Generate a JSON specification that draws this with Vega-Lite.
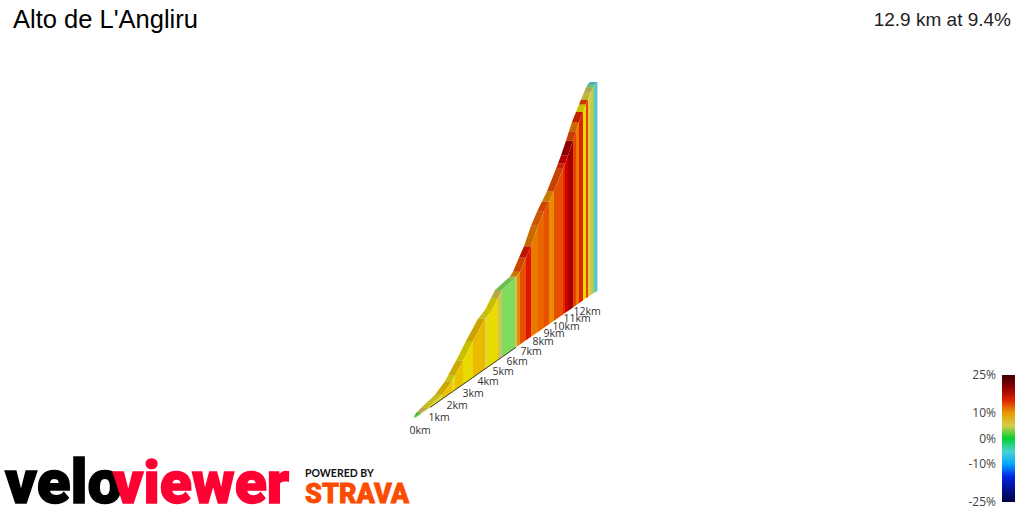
{"$schema":"https://vega.github.io/schema/vega-lite/v6.json","width":1024,"height":512,"padding":0,"autosize":{"type":"none"},"background":"white","config":{"view":{"stroke":null}},
"datasets":{"slats":[
{"seg":1,"grade":0.5,"x":415,"xBack":414,"top":417,"base":418},{"seg":1,"grade":0.5,"x":421,"xBack":416,"top":413,"base":413.8},
{"seg":2,"grade":4,"x":421,"xBack":416,"top":413,"base":413.8},{"seg":2,"grade":4,"x":428,"xBack":421,"top":408,"base":408.9},
{"seg":3,"grade":6.5,"x":428,"xBack":421,"top":408,"base":408.9},{"seg":3,"grade":6.5,"x":442,"xBack":435,"top":394.7,"base":399.1},
{"seg":4,"grade":8.5,"x":442,"xBack":435,"top":394.7,"base":399.1},{"seg":4,"grade":8.5,"x":452,"xBack":445,"top":381.3,"base":392.1},
{"seg":5,"grade":7,"x":452,"xBack":445,"top":381.3,"base":392.1},{"seg":5,"grade":7,"x":455,"xBack":448,"top":375.6,"base":390},
{"seg":6,"grade":8.5,"x":455,"xBack":448,"top":375.6,"base":390},{"seg":6,"grade":8.5,"x":463,"xBack":456,"top":360.7,"base":384.4},
{"seg":7,"grade":7.5,"x":463,"xBack":456,"top":360.7,"base":384.4},{"seg":7,"grade":7.5,"x":473,"xBack":466,"top":341.1,"base":377.4},
{"seg":8,"grade":8.8,"x":473,"xBack":466,"top":341.1,"base":377.4},{"seg":8,"grade":8.8,"x":485,"xBack":478,"top":318.75,"base":369},
{"seg":9,"grade":6.5,"x":485,"xBack":478,"top":318.75,"base":369},{"seg":9,"grade":6.5,"x":488,"xBack":481,"top":315,"base":366.9},
{"seg":10,"grade":7.5,"x":488,"xBack":481,"top":315,"base":366.9},{"seg":10,"grade":7.5,"x":492,"xBack":485,"top":310,"base":364.1},
{"seg":11,"grade":7.5,"x":492,"xBack":485,"top":310,"base":364.1},{"seg":11,"grade":7.5,"x":498,"xBack":491,"top":298,"base":359.9},
{"seg":12,"grade":4,"x":498,"xBack":491,"top":298,"base":359.9},{"seg":12,"grade":4,"x":502,"xBack":495,"top":290,"base":357.1},
{"seg":13,"grade":1.5,"x":502,"xBack":495,"top":290,"base":357.1},{"seg":13,"grade":1.5,"x":515,"xBack":508,"top":278.2,"base":348},
{"seg":14,"grade":4,"x":515,"xBack":508,"top":278.2,"base":348},{"seg":14,"grade":4,"x":517,"xBack":510,"top":276.6,"base":346.6},
{"seg":15,"grade":10.5,"x":517,"xBack":510,"top":276.6,"base":346.6},{"seg":15,"grade":10.5,"x":520,"xBack":513,"top":271.7,"base":344.5},
{"seg":16,"grade":12,"x":520,"xBack":513,"top":271.7,"base":344.5},{"seg":16,"grade":12,"x":526,"xBack":519,"top":257.6,"base":340.3},
{"seg":17,"grade":15.5,"x":526,"xBack":519,"top":257.6,"base":340.3},{"seg":17,"grade":15.5,"x":531,"xBack":524,"top":246.2,"base":336.8},
{"seg":18,"grade":11,"x":531,"xBack":524,"top":246.2,"base":336.8},{"seg":18,"grade":11,"x":538,"xBack":531,"top":225.8,"base":331.9},
{"seg":19,"grade":11.5,"x":538,"xBack":531,"top":225.8,"base":331.9},{"seg":19,"grade":11.5,"x":544,"xBack":537,"top":211.8,"base":327.7},
{"seg":20,"grade":12,"x":544,"xBack":537,"top":211.8,"base":327.7},{"seg":20,"grade":12,"x":549,"xBack":542,"top":201.5,"base":324.2},
{"seg":21,"grade":10.5,"x":549,"xBack":542,"top":201.5,"base":324.2},{"seg":21,"grade":10.5,"x":554,"xBack":547,"top":191.2,"base":320.7},
{"seg":22,"grade":12.2,"x":554,"xBack":547,"top":191.2,"base":320.7},{"seg":22,"grade":12.2,"x":563,"xBack":556,"top":168.8,"base":314.4},
{"seg":23,"grade":14.5,"x":563,"xBack":556,"top":168.8,"base":314.4},{"seg":23,"grade":14.5,"x":565,"xBack":558,"top":163.4,"base":313},
{"seg":24,"grade":16.5,"x":565,"xBack":558,"top":163.4,"base":313},{"seg":24,"grade":16.5,"x":568,"xBack":561,"top":155.4,"base":310.9},
{"seg":25,"grade":19,"x":568,"xBack":561,"top":155.4,"base":310.9},{"seg":25,"grade":19,"x":573,"xBack":566,"top":140.7,"base":307.4},
{"seg":26,"grade":13,"x":573,"xBack":566,"top":140.7,"base":307.4},{"seg":26,"grade":13,"x":576,"xBack":569,"top":131.3,"base":305.3},
{"seg":27,"grade":11,"x":576,"xBack":569,"top":131.3,"base":305.3},{"seg":27,"grade":11,"x":579,"xBack":572,"top":122,"base":303.2},
{"seg":28,"grade":15,"x":579,"xBack":572,"top":122,"base":303.2},{"seg":28,"grade":15,"x":583,"xBack":576,"top":112,"base":300.4},
{"seg":29,"grade":7.5,"x":583,"xBack":576,"top":112,"base":300.4},{"seg":29,"grade":7.5,"x":586,"xBack":579,"top":104.5,"base":298.3},
{"seg":30,"grade":13,"x":586,"xBack":579,"top":104.5,"base":298.3},{"seg":30,"grade":13,"x":588,"xBack":581,"top":99.5,"base":296.9},
{"seg":31,"grade":5.5,"x":588,"xBack":581,"top":99.5,"base":296.9},{"seg":31,"grade":5.5,"x":591,"xBack":584,"top":92.3,"base":294.8},
{"seg":32,"grade":3.5,"x":591,"xBack":584,"top":92.3,"base":294.8},{"seg":32,"grade":3.5,"x":593,"xBack":586,"top":87.7,"base":293.4},
{"seg":33,"grade":1.5,"x":593,"xBack":586,"top":87.7,"base":293.4},{"seg":33,"grade":1.5,"x":594,"xBack":587,"top":85.3,"base":292.7},
{"seg":34,"grade":-3.5,"x":594,"xBack":587,"top":85.3,"base":292.7},{"seg":34,"grade":-3.5,"x":597.5,"xBack":590,"top":82,"base":291}
],
"km":[{"t":"0km","x":420,"y":431},{"t":"1km","x":439,"y":418},{"t":"2km","x":457,"y":406},{"t":"3km","x":473,"y":394},{"t":"4km","x":488,"y":382},{"t":"5km","x":503,"y":372},{"t":"6km","x":517,"y":362},{"t":"7km","x":531,"y":352},{"t":"8km","x":543,"y":342},{"t":"9km","x":554,"y":334},{"t":"10km","x":566,"y":327},{"t":"11km","x":577,"y":319},{"t":"12km","x":587,"y":312}]},
"encoding":{},
"layer":[
{"data":{"name":"slats"},"mark":{"type":"area","orient":"horizontal"},"encoding":{"x":{"field":"xBack","type":"quantitative","scale":{"domain":[0,1024],"nice":false,"zero":false},"axis":null},"x2":{"field":"x"},"y":{"field":"top","type":"quantitative","scale":{"domain":[512,0],"nice":false,"zero":false},"axis":null},"detail":{"field":"seg"},"color":{"field":"grade","type":"quantitative","scale":{"domain":[-25,-15.6,-11.6,-7.7,-3,0.1,1.5,3.4,7.3,10,12,16,20,25],"range":["#00003c","#0000e0","#0078f0","#00e4e4","#60c4c4","#10d020","#80dc5c","#c8c060","#e8e000","#e89c00","#e85000","#dc0000","#900000","#3c0000"]},"title":null,"legend":{"orient":"none","legendX":1002,"legendY":375,"padding":0,"gradientLength":127,"gradientThickness":13,"values":[-25,-10,0,10,25],"labelExpr":"datum.value+'%'","labelFont":"Open Sans","labelFontSize":12,"labelColor":"#444444","labelOverlap":false,"gradientStrokeWidth":0,"encode":{"labels":{"update":{"x":{"value":-6},"align":{"value":"right"},"baseline":{"value":"middle"}}}}}}}},
{"data":{"name":"slats"},"mark":{"type":"area","orient":"horizontal","color":"#000000","opacity":0.13},"encoding":{"x":{"field":"xBack","type":"quantitative"},"x2":{"field":"x"},"y":{"field":"top","type":"quantitative"},"detail":{"field":"seg"}}},
{"data":{"name":"slats"},"mark":{"type":"area","orient":"vertical"},"encoding":{"x":{"field":"x","type":"quantitative"},"y":{"field":"top","type":"quantitative"},"y2":{"field":"base"},"detail":{"field":"seg"},"color":{"field":"grade","type":"quantitative","title":null}}},
{"data":{"values":[{"x":430,"y":407.5},{"x":516,"y":347.3}]},"mark":{"type":"line","color":"#222222","strokeWidth":0.9},"encoding":{"x":{"field":"x","type":"quantitative"},"y":{"field":"y","type":"quantitative"}}},
{"data":{"name":"km"},"mark":{"type":"text","font":"Open Sans","fontSize":10.5,"color":"#333333","align":"center","baseline":"middle"},"encoding":{"x":{"field":"x","type":"quantitative"},"y":{"field":"y","type":"quantitative"},"text":{"field":"t"}}},
{"data":{"values":[{"t":"Alto de L'Angliru","x":13,"y":20}]},"mark":{"type":"text","font":"Liberation Sans","fontSize":25.5,"color":"#000000","align":"left","baseline":"middle"},"encoding":{"x":{"field":"x","type":"quantitative"},"y":{"field":"y","type":"quantitative"},"text":{"field":"t"}}},
{"data":{"values":[{"t":"12.9 km at 9.4%","x":1011,"y":20}]},"mark":{"type":"text","font":"Liberation Sans","fontSize":19,"color":"#222222","align":"right","baseline":"middle"},"encoding":{"x":{"field":"x","type":"quantitative"},"y":{"field":"y","type":"quantitative"},"text":{"field":"t"}}},
{"data":{"values":[{"t":"velo","x":5,"y":503}]},"mark":{"type":"text","font":"Roboto","fontWeight":900,"fontSize":62,"color":"#000000","stroke":"#000000","strokeWidth":1.4,"align":"left","baseline":"alphabetic"},"encoding":{"x":{"field":"x","type":"quantitative"},"y":{"field":"y","type":"quantitative"},"text":{"field":"t"}}},
{"data":{"values":[{"t":"viewer","x":113,"y":503}]},"mark":{"type":"text","font":"Roboto","fontWeight":900,"fontSize":59,"color":"#ff0033","stroke":"#ff0033","strokeWidth":1.4,"align":"left","baseline":"alphabetic"},"encoding":{"x":{"field":"x","type":"quantitative"},"y":{"field":"y","type":"quantitative"},"text":{"field":"t"}}},
{"data":{"values":[{"t":"POWERED BY","x":305,"y":477}]},"mark":{"type":"text","font":"Lato","fontWeight":"bold","fontSize":10.5,"color":"#111111","align":"left","baseline":"alphabetic"},"encoding":{"x":{"field":"x","type":"quantitative"},"y":{"field":"y","type":"quantitative"},"text":{"field":"t"}}},
{"data":{"values":[{"t":"STRAVA","x":305,"y":503}]},"mark":{"type":"text","font":"Roboto","fontWeight":900,"fontSize":27,"color":"#fc4c02","stroke":"#fc4c02","strokeWidth":0.8,"align":"left","baseline":"alphabetic"},"encoding":{"x":{"field":"x","type":"quantitative"},"y":{"field":"y","type":"quantitative"},"text":{"field":"t"}}}
]}
